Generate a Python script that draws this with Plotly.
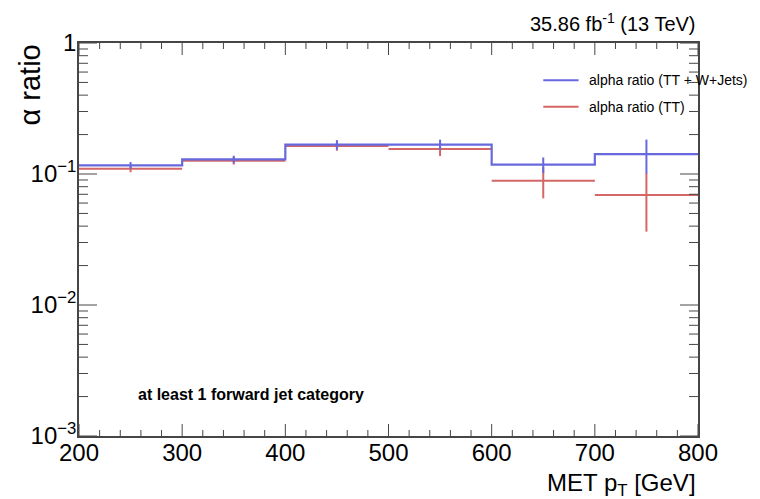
import plotly.graph_objects as go
import math

# MET pT binning (GeV)
bin_edges = [200, 300, 400, 500, 600, 700, 800]
bin_centers = [250, 350, 450, 550, 650, 750]
half_widths = [50, 50, 50, 50, 50, 50]

# alpha ratio, TT + W+Jets
alpha_ttw = [0.1165, 0.1295, 0.1675, 0.1680, 0.1178, 0.1420]
alpha_ttw_err = [0.0070, 0.0085, 0.0140, 0.0150, 0.0160, 0.0410]

# alpha ratio, TT only
alpha_tt = [0.1097, 0.1265, 0.1636, 0.1550, 0.0889, 0.0690]
alpha_tt_err = [0.0065, 0.0085, 0.0130, 0.0180, 0.0237, 0.0327]

y_major = [0.001, 0.01, 0.1, 1]
y_major_text = ["10<sup>−3</sup>", "10<sup>−2</sup>", "10<sup>−1</sup>", "1"]
y_minor = [m * d for d in (0.001, 0.01, 0.1) for m in range(2, 10)]
x_major = [200, 300, 400, 500, 600, 700, 800]
x_minor = [v for v in range(200, 801, 20) if v % 100]

X_RANGE = [200, 800]
Y_LOG_RANGE = [-3, 0]

BLUE = "rgb(104,104,222)"
RED = "rgb(212,102,102)"
AXIS = "rgb(70,70,70)"
FONT = "Liberation Sans, Arial, Helvetica, sans-serif"

# step outline for the TT + W+Jets histogram
step_x, step_y = [], []
for lo, hi, v in zip(bin_edges[:-1], bin_edges[1:], alpha_ttw):
    step_x += [lo, hi]
    step_y += [v, v]

fig = go.Figure()

# TT: points with horizontal bin-width bars and vertical errors
fig.add_trace(go.Scatter(
    x=bin_centers, y=alpha_tt, mode="markers",
    marker=dict(size=1, color=RED),
    error_x=dict(type="data", array=half_widths, color=RED, thickness=2, width=0),
    error_y=dict(type="data", array=alpha_tt_err, color=RED, thickness=2, width=0),
    showlegend=False, hoverinfo="skip",
))
fig.add_trace(go.Scatter(
    x=step_x, y=step_y, mode="lines",
    line=dict(color=BLUE, width=2.2),
    showlegend=False, hoverinfo="skip",
))
fig.add_trace(go.Scatter(
    x=bin_centers, y=alpha_ttw, mode="markers",
    marker=dict(size=1, color=BLUE),
    error_y=dict(type="data", array=alpha_ttw_err, color=BLUE, thickness=2, width=0),
    showlegend=False, hoverinfo="skip",
))


# inward tick marks on all four sides of the frame
def x_frac(v):
    return (v - X_RANGE[0]) / (X_RANGE[1] - X_RANGE[0])


def y_frac(v):
    return (math.log10(v) - Y_LOG_RANGE[0]) / (Y_LOG_RANGE[1] - Y_LOG_RANGE[0])


tick_line = dict(color=AXIS, width=1)
for vals, length in ((x_major, 12), (x_minor, 6)):
    for v in vals:
        f = x_frac(v)
        for anchor, sign in ((0, 1), (1, -1)):
            fig.add_shape(type="line", xref="paper", yref="paper",
                          ysizemode="pixel", yanchor=anchor,
                          x0=f, x1=f, y0=0, y1=sign * length, line=tick_line)
for vals, length in ((y_major, 18), (y_minor, 9)):
    for v in vals:
        f = y_frac(v)
        for anchor, sign in ((0, 1), (1, -1)):
            fig.add_shape(type="line", xref="paper", yref="paper",
                          xsizemode="pixel", xanchor=anchor,
                          x0=0, x1=sign * length, y0=f, y1=f, line=tick_line)

# legend entries
legend_items = [("alpha ratio (TT + W+Jets)", BLUE, 0.905), ("alpha ratio (TT)", RED, 0.838)]
for label, col, yp in legend_items:
    fig.add_shape(type="line", xref="paper", yref="paper",
                  x0=0.75, x1=0.807, y0=yp, y1=yp,
                  line=dict(color=col, width=2))
    fig.add_annotation(text=label, xref="paper", yref="paper", x=0.82, y=yp,
                       xanchor="left", yanchor="middle", showarrow=False,
                       font=dict(size=14, color="black", family=FONT))

fig.add_annotation(text="35.86 fb<sup>-1</sup> (13 TeV)", xref="paper", yref="paper",
                   x=1.0, y=1.0, yshift=6, xanchor="right", yanchor="bottom",
                   showarrow=False, font=dict(size=20, color="black", family=FONT))
fig.add_annotation(text="<b>at least 1 forward jet category</b>", xref="paper", yref="paper",
                   x=0.092, y=0.105, xanchor="left", yanchor="middle",
                   showarrow=False, font=dict(size=16, color="black", family=FONT))
fig.add_annotation(text="MET p<sub>T</sub> [GeV]", xref="paper", yref="paper",
                   x=1.0, y=0, yshift=-31, xanchor="right", yanchor="top",
                   showarrow=False, font=dict(size=24, color="black", family=FONT))
fig.add_annotation(text="α ratio", xref="paper", yref="paper", textangle=-90,
                   x=0, xshift=-50, y=1.0, xanchor="center", yanchor="top",
                   showarrow=False, font=dict(size=29, color="black", family=FONT))

fig.update_layout(
    width=760, height=499,
    margin=dict(l=79, r=62, t=43, b=63),
    paper_bgcolor="white", plot_bgcolor="white",
    font=dict(family=FONT, color="black"),
    xaxis=dict(range=X_RANGE, showgrid=False, zeroline=False,
               showline=True, linecolor=AXIS, linewidth=1.5, mirror=True,
               ticks="", tickmode="array", tickvals=x_major,
               ticklabelstandoff=-6, tickfont=dict(size=24, family=FONT)),
    yaxis=dict(type="log", range=Y_LOG_RANGE, showgrid=False, zeroline=False,
               showline=True, linecolor=AXIS, linewidth=1.5, mirror=True,
               ticks="", tickmode="array", tickvals=y_major, ticktext=y_major_text,
               ticklabelstandoff=-4, tickfont=dict(size=24, family=FONT)),
)

fig.write_html("out.html")
